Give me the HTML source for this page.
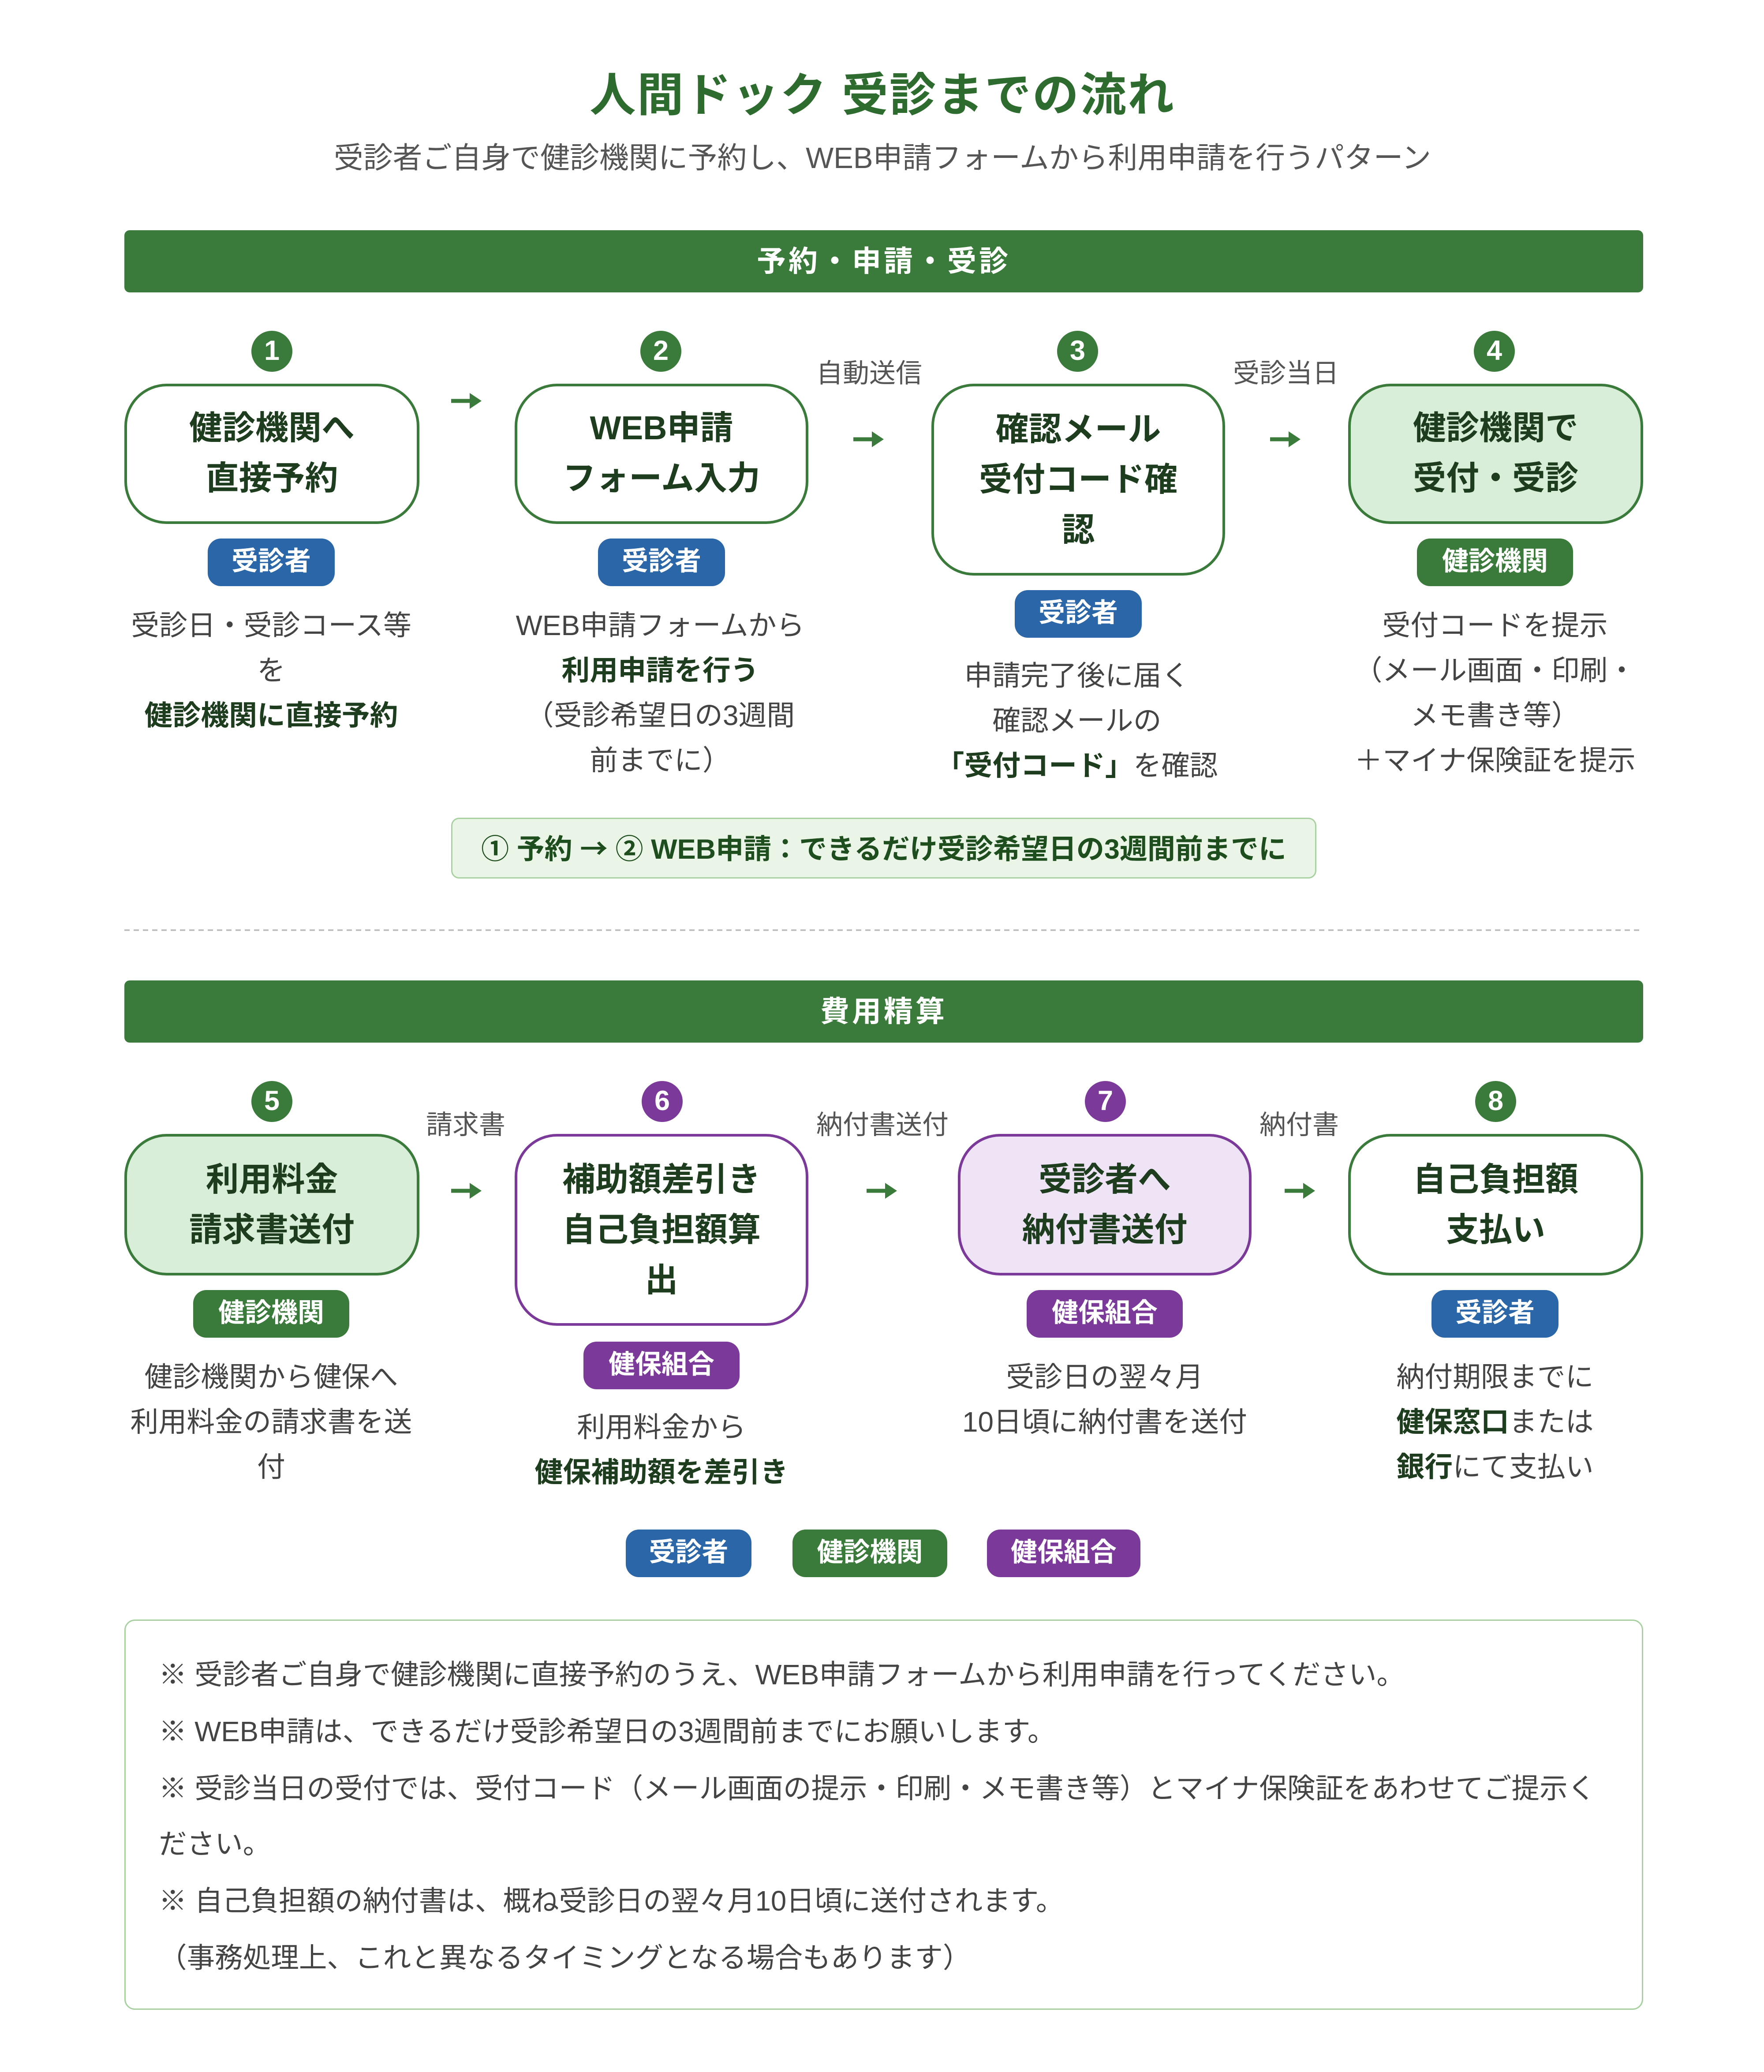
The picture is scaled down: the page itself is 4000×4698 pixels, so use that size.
<!DOCTYPE html>
<html><head><meta charset="utf-8">
<style>
html,body{margin:0;padding:0;background:#fff;}
body{width:4000px;height:4696px;overflow:hidden;position:relative;}
#s{position:absolute;left:0;top:0;width:1334px;height:1566px;transform:scale(3);transform-origin:0 0;font-family:"Liberation Sans","Noto Sans CJK JP",sans-serif;}
.a{position:absolute;}
.c{text-align:center;}
.title{left:0;width:1334px;top:50px;font-size:35px;font-weight:bold;color:#2e6b2e;line-height:46px;letter-spacing:1px;}
.sub{left:0;width:1334px;top:105px;font-size:22.3px;color:#555;line-height:30px;}
.bar{left:94px;width:1148px;height:47px;background:#3a7a3a;border-radius:4px;color:#fff;font-weight:bold;font-size:22px;line-height:47px;letter-spacing:2px;}
.num{width:31px;height:31px;border-radius:50%;color:#fff;font-weight:bold;font-size:21px;line-height:31px;text-align:center;}
.box{width:218px;border:2.5px solid #3a7a3a;border-radius:32px;display:flex;align-items:center;justify-content:center;text-align:center;font-size:25px;font-weight:bold;color:#1e3d1e;line-height:38px;box-sizing:border-box;}
.badge{height:36px;border-radius:10px;color:#fff;font-weight:bold;font-size:20px;line-height:36px;text-align:center;}
.bl{background:#2b67a8;width:96px;}
.gr{background:#3a7a3a;width:118px;}
.pu{background:#7b3a9a;width:118px;}
.desc{width:240px;text-align:center;font-size:21.3px;color:#444;line-height:34px;}
.desc b{color:#1e3d1e;}
.lab{width:120px;text-align:center;font-size:20px;color:#555;line-height:24px;}
</style></head><body><div id="s">
<div class="a c title">人間ドック 受診までの流れ</div>
<div class="a c sub">受診者ご自身で健診機関に予約し、WEB申請フォームから利用申請を行うパターン</div>

<div class="a c bar" style="top:174px">予約・申請・受診</div>

<div class="a num" style="left:190px;top:250px;background:#3a7a3a">1</div>
<div class="a num" style="left:484px;top:250px;background:#3a7a3a">2</div>
<div class="a num" style="left:799px;top:250px;background:#3a7a3a">3</div>
<div class="a num" style="left:1114px;top:250px;background:#3a7a3a">4</div>

<div class="a box" style="left:94px;top:290px;width:223px;height:106px">健診機関へ<br>直接予約</div>
<div class="a box" style="left:389px;top:290px;width:222px;height:106px">WEB申請<br>フォーム入力</div>
<div class="a box" style="left:704px;top:290px;width:222px;height:145px">確認メール<br>受付コード確<br>認</div>
<div class="a box" style="left:1019px;top:290px;width:223px;height:106px;background:#d8eed8">健診機関で<br>受付・受診</div>

<div class="a lab" style="left:597px;top:271px">自動送信</div>
<div class="a lab" style="left:912px;top:271px">受診当日</div>

<svg class="a" style="left:0;top:0" width="1334" height="1566">
<g fill="#3a7a3a" stroke="#3a7a3a">
<line x1="341" y1="303" x2="357" y2="303" stroke-width="3"/><polygon points="355,297 364,303 355,309" stroke="none"/>
<line x1="645" y1="332" x2="661" y2="332" stroke-width="3"/><polygon points="659,326 668,332 659,338" stroke="none"/>
<line x1="960" y1="332" x2="976" y2="332" stroke-width="3"/><polygon points="974,326 983,332 974,338" stroke="none"/>
<line x1="341" y1="900" x2="357" y2="900" stroke-width="3"/><polygon points="355,894 364,900 355,906" stroke="none"/>
<line x1="655" y1="900" x2="671" y2="900" stroke-width="3"/><polygon points="669,894 678,900 669,906" stroke="none"/>
<line x1="971" y1="900" x2="987" y2="900" stroke-width="3"/><polygon points="985,894 994,900 985,906" stroke="none"/>
</g>
<line x1="94" y1="703" x2="1242" y2="703" stroke="#bbb" stroke-width="1.2" stroke-dasharray="4,3"/>
</svg>

<div class="a badge bl" style="left:157px;top:407px">受診者</div>
<div class="a badge bl" style="left:452px;top:407px">受診者</div>
<div class="a badge bl" style="left:767px;top:446px">受診者</div>
<div class="a badge gr" style="left:1071px;top:407px">健診機関</div>

<div class="a desc" style="left:85px;top:456px">受診日・受診コース等<br>を<br><b>健診機関に直接予約</b></div>
<div class="a desc" style="left:379px;top:456px">WEB申請フォームから<br><b>利用申請を行う</b><br>（受診希望日の3週間<br>前までに）</div>
<div class="a desc" style="left:694px;top:494px">申請完了後に届く<br>確認メールの<br><b>「受付コード」</b>を確認</div>
<div class="a desc" style="left:1010px;top:456px">受付コードを提示<br>（メール画面・印刷・<br>メモ書き等）<br>＋マイナ保険証を提示</div>

<div class="a c" style="left:341px;top:618px;width:652px;height:44px;background:#eaf5e8;border:1.5px solid #a8d0a0;border-radius:6px;font-size:21px;font-weight:bold;color:#1e4d1e;line-height:44px">① 予約 <span style="font-family:'Noto Sans CJK JP',sans-serif">→</span> ② WEB申請：できるだけ受診希望日の3週間前までに</div>

<div class="a c bar" style="top:741px">費用精算</div>

<div class="a num" style="left:190px;top:817px;background:#3a7a3a">5</div>
<div class="a num" style="left:485px;top:817px;background:#7b3a9a">6</div>
<div class="a num" style="left:820px;top:817px;background:#7b3a9a">7</div>
<div class="a num" style="left:1115px;top:817px;background:#3a7a3a">8</div>

<div class="a box" style="left:94px;top:857px;width:223px;height:107px;background:#d8eed8">利用料金<br>請求書送付</div>
<div class="a box" style="left:389px;top:857px;width:222px;height:145px;border-color:#7b3a9a">補助額差引き<br>自己負担額算<br>出</div>
<div class="a box" style="left:724px;top:857px;width:222px;height:107px;border-color:#7b3a9a;background:#efe4f5">受診者へ<br>納付書送付</div>
<div class="a box" style="left:1019px;top:857px;width:223px;height:107px">自己負担額<br>支払い</div>

<div class="a lab" style="left:292px;top:839px">請求書</div>
<div class="a lab" style="left:607px;top:839px">納付書送付</div>
<div class="a lab" style="left:922px;top:839px">納付書</div>

<div class="a badge gr" style="left:146px;top:975px">健診機関</div>
<div class="a badge pu" style="left:441px;top:1014px">健保組合</div>
<div class="a badge pu" style="left:776px;top:975px">健保組合</div>
<div class="a badge bl" style="left:1082px;top:975px">受診者</div>

<div class="a desc" style="left:85px;top:1024px">健診機関から健保へ<br>利用料金の請求書を送<br>付</div>
<div class="a desc" style="left:380px;top:1062px">利用料金から<br><b>健保補助額を差引き</b></div>
<div class="a desc" style="left:715px;top:1024px">受診日の翌々月<br>10日頃に納付書を送付</div>
<div class="a desc" style="left:1010px;top:1024px"><span style="display:inline-block;text-align:left">納付期限までに<br><b>健保窓口</b>または<br><b>銀行</b>にて支払い</span></div>

<div class="a badge bl" style="left:473px;top:1156px;width:95px">受診者</div>
<div class="a badge gr" style="left:599px;top:1156px;width:117px">健診機関</div>
<div class="a badge pu" style="left:746px;top:1156px;width:116px">健保組合</div>

<div class="a" style="left:94px;top:1224px;width:1148px;height:295px;box-sizing:border-box;border:1.5px solid #a8d0a0;border-radius:8px;padding:21px 0 0 25px;font-size:21.2px;color:#444;line-height:42.8px">
※ 受診者ご自身で健診機関に直接予約のうえ、WEB申請フォームから利用申請を行ってください。<br>
※ WEB申請は、できるだけ受診希望日の3週間前までにお願いします。<br>
※ 受診当日の受付では、受付コード（メール画面の提示・印刷・メモ書き等）とマイナ保険証をあわせてご提示く<br>ださい。<br>
※ 自己負担額の納付書は、概ね受診日の翌々月10日頃に送付されます。<br>
（事務処理上、これと異なるタイミングとなる場合もあります）
</div>
</div></body></html>
